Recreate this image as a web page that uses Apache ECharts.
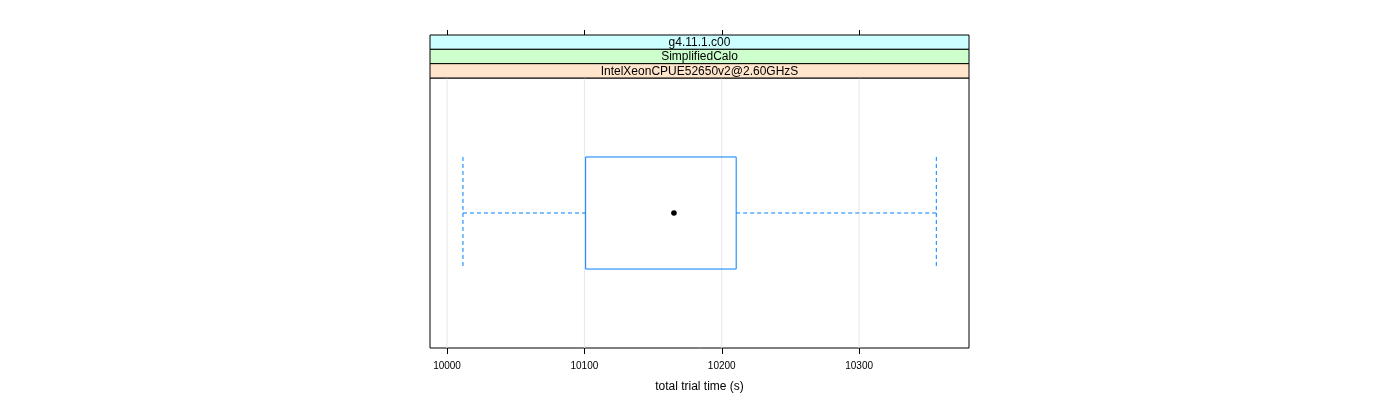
<!DOCTYPE html>
<html>
<head>
<meta charset="utf-8">
<script src="https://cdn.jsdelivr.net/npm/echarts@6/dist/echarts.min.js"></script>
<style>
html,body{margin:0;padding:0;background:#fff;}
#chart{width:1400px;height:400px;}
</style>
</head>
<body>
<div id="chart"></div>
<script>
// ---- data ----
const categories = ['IntelXeonCPUE52650v2@2.60GHzS'];
const stripLabels = ['g4.11.1.c00', 'SimplifiedCalo', 'IntelXeonCPUE52650v2@2.60GHzS'];
const stripColors = ['#ccffff', '#ccffcc', '#ffe5cc'];
const whiskerLow = [10011.6];
const q1 = [10100.9];
const median = [10165.2];
const q3 = [10210.5];
const whiskerHigh = [10356.2];
const xTicks = [10000, 10100, 10200, 10300];
const xMin = 9987.6;
const xMax = 10380;
const xTitle = 'total trial time (s)';

const FONT = 'Liberation Sans, Arial, Helvetica, sans-serif';
const BOX = '#0080ff';

const panelLeft = 430, panelRight = 969, panelTop = 35, plotTop = 78, plotBottom = 348;
const stripH = (plotTop - panelTop) / stripLabels.length;

const boxData = categories.map((c, i) => [whiskerLow[i], q1[i], median[i], q3[i], whiskerHigh[i], i]);
const gridData = xTicks.map(v => [v]);

const graphics = [];
stripLabels.forEach((t, i) => {
  graphics.push({
    type: 'rect', z: 10,
    shape: { x: panelLeft, y: panelTop + i * stripH, width: panelRight - panelLeft, height: stripH },
    style: { fill: stripColors[i], stroke: '#000', lineWidth: 1 }
  });
  graphics.push({
    type: 'text', z: 11,
    x: (panelLeft + panelRight) / 2, y: panelTop + (i + 0.5) * stripH + 0.5,
    style: { text: t, fontFamily: FONT, fontSize: 12, fill: '#000', align: 'center', verticalAlign: 'middle' }
  });
});

const chart = echarts.init(document.getElementById('chart'), null, { renderer: 'canvas' });
chart.setOption({
  animation: false,
  backgroundColor: '#fff',
  grid: [
    { left: panelLeft, width: panelRight - panelLeft, top: plotTop, height: plotBottom - plotTop,
      show: true, borderColor: '#000', borderWidth: 1, backgroundColor: 'transparent' }
  ],
  xAxis: [
    {
      type: 'value', gridIndex: 0, min: xMin, max: xMax, position: 'bottom',
      axisLine: { show: false },
      axisTick: { show: true, inside: false, length: 6, lineStyle: { color: '#000' }, customValues: xTicks },
      axisLabel: { show: true, customValues: xTicks, margin: 13, fontFamily: FONT, fontSize: 10, color: '#000',
                   formatter: v => String(v) },
      splitLine: { show: false },
      name: xTitle, nameLocation: 'middle', nameGap: 33,
      nameTextStyle: { fontFamily: FONT, fontSize: 12, color: '#000' }
    },
    {
      type: 'value', gridIndex: 0, min: xMin, max: xMax, position: 'top', offset: plotTop - panelTop,
      axisLine: { show: false },
      axisTick: { show: true, inside: false, length: 5, lineStyle: { color: '#000' }, customValues: xTicks },
      axisLabel: { show: true, customValues: xTicks, color: 'rgba(0,0,0,0)', fontSize: 1, formatter: v => ' ' },
      splitLine: { show: false }
    }
  ],
  yAxis: [
    { type: 'category', gridIndex: 0, data: categories, show: false }
  ],
  graphic: graphics,
  series: [
    {
      type: 'custom',
      xAxisIndex: 0, yAxisIndex: 0,
      data: gridData,
      encode: { x: 0 },
      z: 1,
      silent: true,
      renderItem: function (params, api) {
        const cs = params.coordSys;
        const x = api.coord([api.value(0), 0])[0];
        return { type: 'line', shape: { x1: x, y1: cs.y, x2: x, y2: cs.y + cs.height },
                 style: { stroke: '#e6e6e6', lineWidth: 1 } };
      }
    },
    {
      type: 'custom',
      xAxisIndex: 0, yAxisIndex: 0,
      encode: { x: [0, 1, 2, 3, 4], y: 5 },
      data: boxData,
      z: 5,
      renderItem: function (params, api) {
        const cat = api.value(5);
        const yc = api.coord([api.value(2), cat])[1];
        const band = api.size([0, 1])[1];
        const half = band * 0.415 / 2;
        const xLo = api.coord([api.value(0), cat])[0];
        const xQ1 = api.coord([api.value(1), cat])[0];
        const xMed = api.coord([api.value(2), cat])[0];
        const xQ3 = api.coord([api.value(3), cat])[0];
        const xHi = api.coord([api.value(4), cat])[0];
        const dashed = { stroke: BOX, lineWidth: 1, lineDash: [4, 3], fill: null };
        return {
          type: 'group',
          children: [
            { type: 'line', shape: { x1: xLo, y1: yc, x2: xQ1, y2: yc }, style: dashed },
            { type: 'line', shape: { x1: xQ3, y1: yc, x2: xHi, y2: yc }, style: dashed },
            { type: 'line', shape: { x1: xLo, y1: yc - half, x2: xLo, y2: yc + half }, style: dashed },
            { type: 'line', shape: { x1: xHi, y1: yc - half, x2: xHi, y2: yc + half }, style: dashed },
            { type: 'rect', shape: { x: xQ1, y: yc - half, width: xQ3 - xQ1, height: 2 * half },
              style: { stroke: BOX, lineWidth: 1, fill: null } },
            { type: 'circle', shape: { cx: xMed, cy: yc, r: 2.8 }, style: { fill: '#000' } }
          ]
        };
      }
    }
  ]
});
</script>
</body>
</html>
